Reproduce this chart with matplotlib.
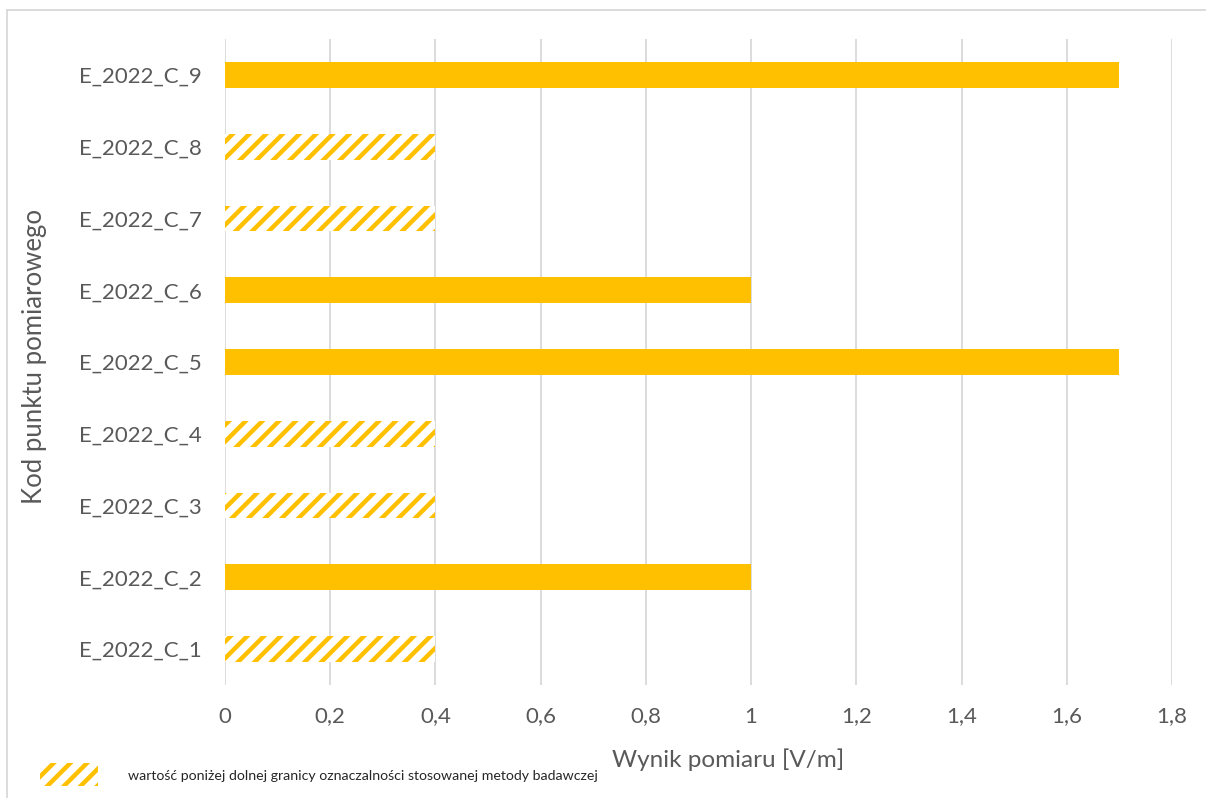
import matplotlib
matplotlib.use("Agg")
import matplotlib.pyplot as plt
from matplotlib.patches import Rectangle
from matplotlib.lines import Line2D

# Measurement points and results [V/m]
points = ["E_2022_C_1", "E_2022_C_2", "E_2022_C_3", "E_2022_C_4", "E_2022_C_5",
          "E_2022_C_6", "E_2022_C_7", "E_2022_C_8", "E_2022_C_9"]
values = [0.4, 1.0, 0.4, 0.4, 1.7, 1.0, 0.4, 0.4, 1.7]
below_limit = [True, False, True, True, False, False, True, True, False]
x_ticks = [0, 0.2, 0.4, 0.6, 0.8, 1.0, 1.2, 1.4, 1.6, 1.8]
x_tick_labels = ["0", "0,2", "0,4", "0,6", "0,8", "1", "1,2", "1,4", "1,6", "1,8"]
legend_text = "wartość poniżej dolnej granicy oznaczalności stosowanej metody badawczej"

YELLOW = "#FFC000"
GRID = "#D9D9D9"
TEXT = "#595959"

plt.rcParams["font.family"] = ["Lato", "DejaVu Sans"]
plt.rcParams["hatch.linewidth"] = 3.2
plt.rcParams["hatch.color"] = YELLOW

W, H = 1206, 798
fig = plt.figure(figsize=(W / 100, H / 100), dpi=100)
ax = fig.add_axes([225 / W, 1 - 685 / H, (1172 - 225) / W, (685 - 39) / H])

for i, (v, low) in enumerate(zip(values, below_limit)):
    if low:
        ax.barh(i, v, height=0.36, facecolor="white", edgecolor=YELLOW,
                hatch="//", linewidth=0, zorder=3)
    else:
        ax.barh(i, v, height=0.36, color=YELLOW, linewidth=0, zorder=3)

ax.set_xlim(0, 1.8)
ax.set_ylim(-0.5, len(points) - 0.5)
ax.set_xticks(x_ticks)
ax.set_xticklabels(x_tick_labels)
ax.set_yticks(range(len(points)))
ax.set_yticklabels(points)
ax.tick_params(axis="x", length=0, pad=15.5, labelsize=16, labelcolor=TEXT)
ax.tick_params(axis="y", length=0, pad=16.5, labelsize=16, labelcolor=TEXT)
ax.grid(axis="x", color=GRID, linewidth=1.3, zorder=0)
ax.set_axisbelow(True)
for s in ax.spines.values():
    s.set_visible(False)

ax.set_xlabel("Wynik pomiaru [V/m]", fontsize=17.5, color=TEXT)
ax.xaxis.set_label_coords((728 - 225) / (1172 - 225), -(760 - 685) / (685 - 39))
ax.xaxis.label.set_va("center")
ax.set_ylabel("Kod punktu pomiarowego", fontsize=18.5, color=TEXT)
ax.yaxis.set_label_coords(-(225 - 35) / (1172 - 225), (685 - 357) / (685 - 39))
ax.yaxis.label.set_va("center")

# Legend for hatched bars
fig.add_artist(Rectangle((40 / W, 1 - 786 / H), 58 / W, 23 / H,
                         transform=fig.transFigure, facecolor="white",
                         edgecolor=YELLOW, hatch="//", linewidth=0))
fig.text(128 / W, 1 - 776 / H, legend_text, fontsize=10.2, color="#262626",
         va="center", ha="left")

# Chart frame
fig.add_artist(Line2D([7 / W, 7 / W], [0, 1 - 10 / H], transform=fig.transFigure,
                      color=GRID, linewidth=1.3))
fig.add_artist(Line2D([7 / W, 1], [1 - 10 / H, 1 - 10 / H], transform=fig.transFigure,
                      color=GRID, linewidth=1.3))

fig.savefig("out.png", dpi=100)
